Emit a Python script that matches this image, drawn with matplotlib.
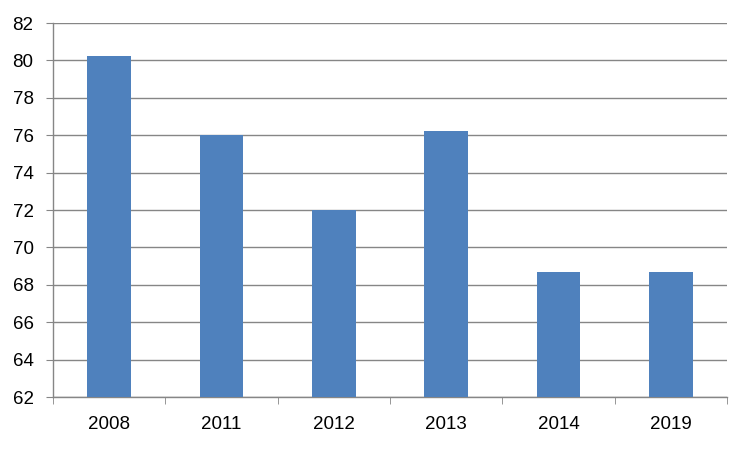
import numpy as np
import matplotlib.pyplot as plt

years = ['2008', '2011', '2012', '2013', '2014', '2019']
values = [80.24, 76.0, 72.0, 76.23, 68.66, 68.66]

plt.rcParams['font.family'] = ['Liberation Sans', 'DejaVu Sans']

fig = plt.figure(figsize=(7.49, 4.49), dpi=100)
ax = fig.add_axes([53 / 749, 52 / 449, 674 / 749, 374 / 449])

x = np.arange(len(years))
ax.bar(x, values, width=0.39, color='#4F81BD', zorder=3)

ax.set_ylim(62, 82)
ax.set_yticks(np.arange(62, 83, 2))
ax.set_xlim(-0.5, len(years) - 0.5)
ax.set_xticks(x)
ax.set_xticklabels(years)
ax.set_xticks(np.arange(-0.5, len(years), 1), minor=True)

grid_c = '#868686'
ax.grid(axis='y', color=grid_c, linewidth=1, zorder=0)
for s in ['top', 'right']:
    ax.spines[s].set_visible(False)
for s in ['left', 'bottom']:
    ax.spines[s].set_color(grid_c)
    ax.spines[s].set_linewidth(1)

ax.tick_params(axis='y', colors=grid_c, labelcolor='black', length=5,
               pad=9, labelsize=13.5)
ax.tick_params(axis='x', which='major', length=0, pad=14, labelsize=13.5,
               labelcolor='black')
ax.tick_params(axis='x', which='minor', colors=grid_c, length=5)

fig.savefig('out.png', dpi=100)
